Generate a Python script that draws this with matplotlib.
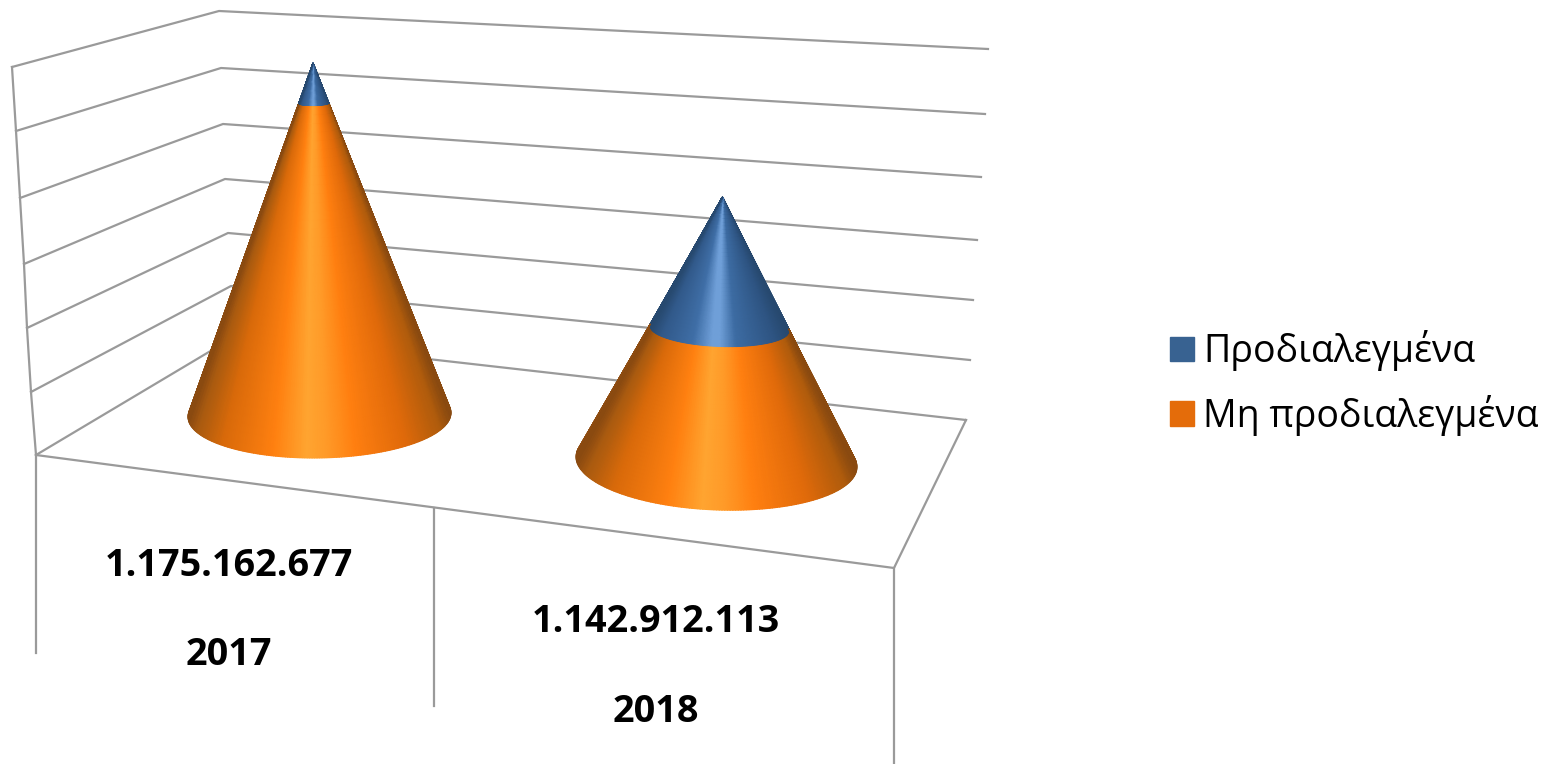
import numpy as np
import matplotlib
matplotlib.use('Agg')
import matplotlib.pyplot as plt
from matplotlib.colors import LinearSegmentedColormap
from matplotlib.patches import Patch

# data, heights in gridline units
years = ['2017', '2018']
totals = ['1.175.162.677', '1.142.912.113']
non_preselected = [5.2, 2.1]
preselected = [0.7, 2.1]
series_names = ['Προδιαλεγμένα', 'Μη προδιαλεγμένα']

# 3D frame in pixels
left_x = [12, 16, 20, 24, 27, 31, 36]
left_y = [67, 131, 198, 264, 328, 392, 455]
back_x = [219, 221, 223, 225, 228, 231, 234]
back_y = [11, 68, 124, 179, 233, 286, 337]
right_x = [988, 985, 981, 977, 973, 970, 966]
right_y = [49, 114, 177, 240, 300, 360, 420]
front_x = [36, 434, 894]
front_top = [455, 508, 568]
front_bottom = [653, 706, 764]

# cone geometry in pixels
base_x = [319.5, 716.5]
base_y = [415, 462]
apex_x = [313, 722.5]
radius = [131.5, 140.5]
minor = [43, 48]
tilt = [-2, 5]
unit_px = [59.66, 63.1]

orange = LinearSegmentedColormap.from_list('orange', [
    (0.0, '#8A4A10'), (0.04, '#B05C0C'), (0.17, '#E06A0A'), (0.36, '#FF7F10'),
    (0.47, '#FF9A28'), (0.55, '#FFA531'), (0.68, '#FF8010'), (0.87, '#D96A0A'),
    (0.97, '#A85A10'), (1.0, '#8A4A10')])
blue = LinearSegmentedColormap.from_list('blue', [
    (0.0, '#27496F'), (0.1, '#2E5482'), (0.38, '#3D6CA3'), (0.5, '#6F9FD8'),
    (0.56, '#6F9FD8'), (0.7, '#3F6EA6'), (0.92, '#31598A'), (1.0, '#27496F')])
GRID = '#9A9A9A'

fig = plt.figure(figsize=(15.56, 7.64), dpi=100)
ax = fig.add_axes([0, 0, 1, 1])
ax.set_xlim(0, 1556)
ax.set_ylim(764, 0)
ax.axis('off')

# walls and floor
for i in range(7):
    ax.plot([left_x[i], back_x[i], right_x[i]], [left_y[i], back_y[i], right_y[i]],
            color=GRID, lw=1.6, zorder=1)
ax.plot(left_x, left_y, color=GRID, lw=1.6, zorder=1)
ax.plot([front_x[0], front_x[2], right_x[6]], [front_top[0], front_top[2], right_y[6]],
        color=GRID, lw=1.6, zorder=1)
for i in range(3):
    ax.plot([front_x[i], front_x[i]], [front_top[i], front_bottom[i]],
            color=GRID, lw=1.6, zorder=1)


def draw_part(i, s0, s1, cmap):
    # surface of the cone between fractions s0 and s1 of its height
    height = (non_preselected[i] + preselected[i]) * unit_px[i]
    a_y = base_y[i] - height
    edge = np.arcsin(minor[i] / height)
    theta = np.linspace(-edge, np.pi + edge, 181)
    s = np.linspace(s0, s1, 40)
    T, S = np.meshgrid(theta, s)
    X = apex_x[i] + S * (base_x[i] - apex_x[i]) + S * radius[i] * np.cos(T)
    Y = a_y + S * height + minor[i] * S ** 1.41 * np.sin(T) + tilt[i] * S * np.cos(T)
    C = 0.5 - 0.5 * np.cos(T)
    ax.pcolormesh(X, Y, C, cmap=cmap, vmin=0, vmax=1, shading='gouraud',
                  zorder=3, antialiased=True)


for i in range(2):
    frac = preselected[i] / (non_preselected[i] + preselected[i])
    draw_part(i, 0.001, frac, blue)
    draw_part(i, frac, 1, orange)

# category labels
bold = dict(family='Open Sans', fontweight='bold', fontsize=27.2, ha='center', va='center', color='black')
ax.text(229, 566, totals[0], **bold)
ax.text(229, 655, years[0], **bold)
ax.text(656, 622, totals[1], **bold)
ax.text(656, 712, years[1], **bold)

handles = [Patch(color='#386291', label=series_names[0]),
           Patch(color='#E46C0A', label=series_names[1])]
ax.legend(handles=handles, loc='upper left', bbox_to_anchor=(1159 / 1556, 1 - 319 / 764),
          frameon=False, prop={'family': 'Open Sans', 'size': 27},
          handlelength=0.64, handleheight=0.64, handletextpad=0.24,
          labelspacing=0.63, borderaxespad=0, borderpad=0.3)

plt.savefig('out.png', dpi=100)
